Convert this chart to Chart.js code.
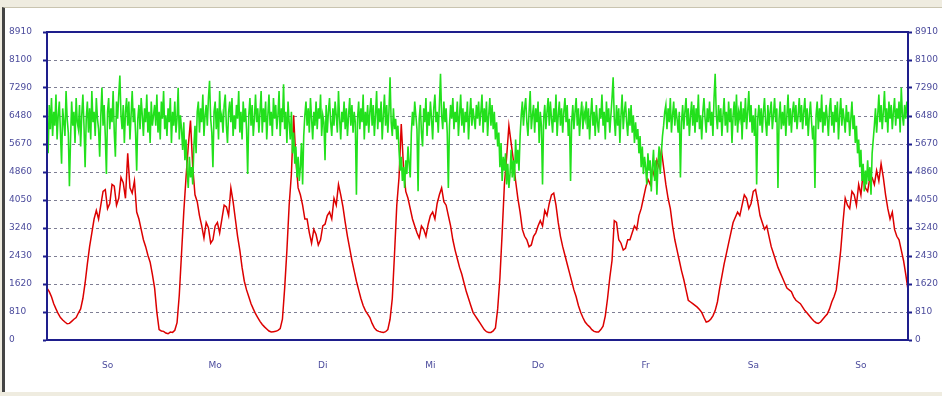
<!DOCTYPE html>
<html lang="de">
  <head>
    <meta charset="UTF-8" />
    <title>Wochenverlauf</title>
    <script src="https://cdn.jsdelivr.net/npm/chart.js"></script>
    <style>
      body {
        margin: 0;
        padding: 0;
        background-color: #efece0;
        width: 942px;
        height: 396px;
        overflow: hidden;
        position: relative;
      }
      .panel {
        position: absolute;
        left: 2px;
        top: 7px;
        width: 940px;
        height: 385px;
        background-color: #fff;
        border-left: 3px solid #444;
        border-top: 1px solid #c9c4b0;
        box-sizing: border-box;
      }
      #chartBox {
        position: absolute;
        left: 0;
        top: 0;
        width: 942px;
        height: 396px;
      }
    </style>
  </head>
  <body>
    <div class="panel"></div>
    <div id="chartBox">
      <canvas id="weekChart" width="942" height="396"></canvas>
    </div>

    <script>
      // day labels along the bottom (one per 24 hours)
      const dayNames = ["So", "Mo", "Di", "Mi", "Do", "Fr", "Sa", "So"];

      // y axis ticks
      const yMax = 8910;
      const yStep = 810;

      // red series, one value per half hour (385 values)
      const redValues = [
        // So
        1500, 1400, 1250, 1050, 900, 760, 650, 580, 520, 470, 480, 540,
        600, 650, 780, 900, 1200, 1650, 2200, 2700, 3100, 3500, 3750, 3500,
        3900, 4300, 4350, 3800, 3950, 4500, 4450, 3900, 4100, 4700, 4550, 4100,
        5400, 4400, 4250, 4600, 3700, 3500, 3200, 2900, 2700, 2450, 2250, 1900,
        // Mo
        1500, 800, 300, 260, 250, 200, 180, 230, 220, 280, 500, 1300,
        2500, 3700, 4700, 5600, 6350, 5000, 4200, 4000, 3600, 3300, 2950, 3400,
        3250, 2800, 2900, 3300, 3400, 3100, 3500, 3900, 3850, 3600, 4400, 4000,
        3500, 3000, 2600, 2100, 1700, 1450, 1250, 1050, 900, 760, 650, 540,
        // Di
        450, 380, 320, 260, 230, 240, 250, 280, 330, 600, 1500, 2600,
        3900, 4800, 6500, 5200, 4400, 4200, 3900, 3500, 3500, 3100, 2800, 3200,
        3050, 2750, 2900, 3300, 3350, 3600, 3700, 3500, 4100, 3900, 4500, 4200,
        3850, 3400, 3000, 2650, 2300, 2000, 1700, 1450, 1200, 1000, 850, 750,
        // Mi
        650, 480, 350, 280, 250, 230, 220, 240, 300, 600, 1200, 2500,
        3900, 4700, 6250, 5000, 4300, 4100, 3800, 3500, 3300, 3100, 2950, 3300,
        3200, 3000, 3350, 3600, 3700, 3500, 3950, 4200, 4400, 4000, 3900, 3600,
        3300, 2900, 2600, 2350, 2100, 1900, 1650, 1400, 1200, 1000, 800, 700,
        // Do
        600, 500, 400, 300, 240, 220, 220, 260, 350, 900, 1800, 3100,
        4500, 5300, 6200, 5700, 5200, 4600, 4100, 3700, 3200, 3000, 2900, 2700,
        2750, 3000, 3100, 3300, 3450, 3300, 3750, 3600, 3950, 4200, 4250, 3900,
        3400, 3000, 2700, 2450, 2200, 1950, 1700, 1450, 1250, 1000, 800, 650,
        // Fr
        520, 440, 380, 300, 250, 230, 230, 300, 400, 700, 1200, 1800,
        2300, 3450, 3400, 2900, 2800, 2600, 2650, 2900, 2900, 3100, 3300, 3200,
        3600, 3800, 4100, 4400, 4650, 4500, 4950, 4700, 5200, 5000, 5500, 5000,
        4500, 4100, 3800, 3300, 2900, 2600, 2300, 2000, 1750, 1450, 1150, 1100,
        // Sa
        1050, 1000, 950, 880, 800, 650, 520, 540, 600, 700, 850, 1100,
        1500, 1850, 2200, 2500, 2800, 3100, 3400, 3550, 3700, 3600, 3900, 4200,
        4100, 3800, 3950, 4300, 4350, 4000, 3600, 3400, 3200, 3300, 3000, 2700,
        2500, 2300, 2100, 1950, 1800, 1650, 1500, 1450, 1400, 1250, 1150, 1100,
        // So
        1050, 950, 850, 780, 700, 620, 550, 500, 480, 520, 600, 680,
        750, 900, 1100, 1250, 1450, 2000, 2600, 3400, 4100, 3900, 3800, 4300,
        4200, 3900, 4500, 4200, 4850, 4400, 4300, 4700, 4700, 4500, 4900, 4600,
        5100, 4700, 4200, 3800, 3500, 3700, 3200, 3000, 2900, 2600, 2300, 1900,
        1450
      ];

      // green series, one value per quarter hour (769 values)
      const greenValues = [
        // So
        6300, 5400, 6800, 6100, 7000, 5900, 6600, 6200, 7100, 5800, 6500, 6900,
        6000, 5100, 6700, 6300, 5900, 7200, 6400, 6000, 4450, 5800, 6900, 6200,
        6600, 5700, 7000, 6300, 6100, 6800, 5600, 6500, 7100, 6200, 5000, 6400,
        6900, 6000, 6700, 5800, 7200, 6300, 6600, 5900, 7000, 6400, 6100, 5300,
        6500, 7300, 6200, 6800, 5900, 4800, 6600, 7000, 6100, 6700, 6300, 7200,
        6000, 5300, 6900, 6400, 7100, 7650, 6500, 6100, 6800, 5700, 6600, 7000,
        6200, 6900, 5800, 6500, 7200, 6300, 6700, 6000, 4900, 6400, 6800, 6100,
        7000, 6500, 5900, 6700, 6300, 7100, 6000, 6600, 5700, 6900, 6200, 6500,
        // Mo
        6800, 6200, 7100, 6000, 6600, 5800, 6900, 6400, 7200, 6100, 6500, 5900,
        6700, 6300, 7000, 5700, 6600, 6200, 6900, 6000, 6400, 7300, 5800, 6500,
        6100, 5500, 6300, 5200, 5800, 4900, 4400, 5300, 4700, 5000, 4500, 5600,
        6200, 5400, 6600, 6900, 6000, 6700, 6300, 7100, 5900, 6500, 6800, 6200,
        7000, 7500, 6400, 6000, 5000, 6600, 6900, 6100, 6700, 5800, 7200, 6300,
        6500, 6000, 6800, 7100, 6200, 5700, 6600, 6900, 6300, 7000, 5900, 6500,
        6100, 6800, 6400, 7200, 6000, 6600, 5800, 6900, 6300, 6700, 6100, 4800,
        6500, 7000, 6200, 6800, 5900, 6400, 7100, 6300, 6700, 6000, 6600, 7200,
        // Di
        6000, 6700, 6300, 6900, 5800, 6500, 7100, 6200, 6600, 5900, 7000, 6400,
        6800, 6100, 6500, 7200, 5900, 6700, 6300, 7400, 6100, 6600, 5700, 6900,
        6300, 5800, 6600, 5400, 6000, 5100, 5600, 4700, 5300, 4600, 5000, 5700,
        4500, 5900, 6500, 6900, 6200, 6700, 6000, 7000, 6400, 5800, 6600, 6200,
        6900, 6100, 6700, 6400, 7100, 5900, 6500, 6300, 5200, 6800, 6000, 6600,
        7000, 6300, 5900, 6700, 6200, 6900, 6500, 6000, 7200, 6400, 5800, 6600,
        6300, 6900, 6100, 6700, 5900, 6500, 7000, 6200, 6800, 6000, 6600, 6300,
        4200, 6400, 6900, 6100, 6700, 6300, 7100, 5800, 6600, 6200, 6800, 6000,
        // Mi
        6600, 7000, 6200, 6800, 5900, 6500, 7200, 6100, 6700, 6300, 6900, 5800,
        6500, 7100, 6200, 6800, 6000, 6600, 7600, 6300, 5900, 6700, 6100, 6400,
        5800, 6200, 5500, 4900, 5300, 4600, 5000, 4400, 5200, 4800, 5600, 5100,
        4700, 6000, 6600, 6200, 6900, 6500, 6100, 4300, 6400, 6800, 6000, 5600,
        6700, 6300, 7000, 5900, 6600, 6200, 6900, 6400, 5800, 6700, 7100, 6300,
        6600, 6000, 6800, 7700, 6500, 6100, 6900, 6300, 6700, 6000, 4400, 6200,
        6800, 6400, 7000, 6100, 6600, 6300, 6900, 5900, 6500, 7100, 6200, 6700,
        6000, 6600, 6300, 6900, 5800, 6500, 7000, 6200, 6700, 6400, 6100, 6800,
        // Do
        6400, 6900, 6200, 6600, 7100, 6000, 6700, 6300, 6900, 5900, 6500, 7000,
        6200, 6800, 6100, 6600, 5800, 6300, 5600, 6000, 5000, 5700, 4600, 5300,
        4900, 5400, 4500, 5100, 4400, 4800, 5500, 4700, 5200, 4600, 5800, 5100,
        5500, 4900, 5900, 6500, 6900, 6200, 6700, 7000, 6300, 5900, 6600, 7200,
        6100, 6500, 6800, 6000, 6700, 6300, 6900, 5700, 6600, 6200, 4500, 6400,
        6800, 6100, 6600, 7000, 6200, 6900, 6400, 6000, 6700, 6300, 7100, 5900,
        6500, 6900, 6200, 6700, 6000, 6600, 7000, 6300, 6800, 5900, 6400, 4600,
        6300, 6800, 6100, 6600, 7000, 6200, 6700, 5900, 6500, 6900, 6100, 6600,
        // Fr
        6400, 6900, 6100, 6700, 5800, 6500, 7000, 6200, 6600, 5900, 6800, 6300,
        6000, 6700, 6400, 7100, 6200, 6600, 5800, 6900, 6300, 6700, 6000, 6500,
        7000, 7600, 6400, 5900, 6800, 6200, 6700, 5700, 6500, 7100, 6100, 6600,
        6900, 6300, 5900, 6700, 6200, 6800, 6000, 6500, 5700, 6300, 5800, 6100,
        5400, 5900, 5000, 5600, 4800, 5300, 5000, 4500, 5400, 4900, 5200, 4300,
        5000, 5500, 4600, 5200, 4200, 5100, 5600, 4800, 5400, 5900, 6200, 6600,
        6800, 6100, 6700, 6300, 7000, 6000, 6500, 6900, 6200, 6700, 6400, 6000,
        6600, 4700, 6300, 6800, 6100, 6600, 7000, 6200, 6700, 5900, 6500, 6900,
        // Sa
        6200, 6800, 6000, 6700, 6300, 7100, 6100, 6500, 5800, 6600, 7000, 6400,
        6000, 6700, 6300, 6900, 6200, 6600, 5900, 7000, 7700, 6500, 6100, 6800,
        6300, 6700, 5900, 6500, 7000, 6200, 6600, 6000, 6900, 6300, 6700, 5700,
        6500, 6900, 6200, 7100, 6000, 6600, 6400, 6900, 5800, 6700, 6300, 7000,
        6100, 6600, 7200, 6300, 6800, 6000, 6500, 5900, 6700, 4500, 6400, 6800,
        6200, 6700, 6000, 6600, 7000, 6300, 5900, 6800, 6200, 6600, 6900, 6100,
        6500, 7000, 6300, 6700, 4400, 6400, 6900, 6100, 6600, 6200, 6800, 5900,
        6500, 7100, 6200, 6700, 6000, 6600, 6900, 6300, 6800, 6100, 6500, 7000,
        // So
        6300, 6800, 6100, 6600, 7000, 6200, 6700, 5900, 6500, 6900, 6300, 5800,
        6200, 4400, 6500, 6900, 6100, 6700, 6300, 7100, 6000, 6600, 6200, 6800,
        6400, 5900, 6700, 7000, 6200, 6600, 6000, 6800, 6300, 6900, 5800, 6500,
        7000, 6200, 6700, 6400, 6000, 6800, 6300, 6600, 5900, 6400, 6900, 6100,
        6500, 5700, 6200, 5400, 5800, 5000, 5500, 4600, 5100, 4300, 4900, 4500,
        5200, 4600, 5000, 4200, 5400, 5800, 6200, 6700, 6000, 6500, 7100, 6300,
        6800, 6100, 6600, 7200, 6300, 6700, 6000, 6900, 6400, 6800, 6100, 6600,
        7000, 6200, 6700, 6400, 6900, 6000, 7300, 6500, 6200, 6800, 6400, 6900,
        6500
      ];

      const axisBlue = "#1e1e8c";
      const labelBlue = "#4b4b9c";
      const tickFont = { family: "DejaVu Sans", size: 9 };

      // frame around the plot area
      const frame = {
        id: "frame",
        afterDraw(chart) {
          const a = chart.chartArea;
          const c = chart.ctx;
          c.save();
          c.strokeStyle = axisBlue;
          c.lineWidth = 2;
          c.strokeRect(a.left, a.top, a.right - a.left, a.bottom - a.top);
          c.restore();
        },
      };

      const yTicks = {
        stepSize: yStep,
        color: labelBlue,
        font: tickFont,
        padding: 3,
        callback: (v) => String(v),
      };

      new Chart(document.getElementById("weekChart"), {
        type: "line",
        data: {
          datasets: [
            {
              label: "gruen",
              data: greenValues.map((v, i) => ({ x: i / 4, y: v })),
              borderColor: "#22e01c",
              borderWidth: 1.6,
              pointRadius: 0,
              order: 0,
            },
            {
              label: "rot",
              data: redValues.map((v, i) => ({ x: i / 2, y: v })),
              borderColor: "#dc0000",
              borderWidth: 1.5,
              pointRadius: 0,
              order: 1,
            },
          ],
        },
        options: {
          responsive: false,
          animation: false,
          layout: { padding: { top: 32, left: 9, right: 0, bottom: 0 } },
          plugins: { legend: { display: false }, tooltip: { enabled: false } },
          scales: {
            x: {
              type: "linear",
              min: 0,
              max: 192,
              grid: { display: false },
              border: { color: axisBlue, width: 2 },
              afterBuildTicks(scale) {
                scale.ticks = dayNames.map((d, i) => ({ value: i * 24 + 13.5 }));
              },
              ticks: {
                autoSkip: false,
                maxRotation: 0,
                color: labelBlue,
                font: tickFont,
                padding: 12,
                callback: (v, i) => dayNames[i],
              },
              afterFit(scale) {
                scale.height = 56;
              },
            },
            y: {
              position: "left",
              min: 0,
              max: yMax,
              grid: {
                color: "#7e7e94",
                lineWidth: 1,
                tickColor: axisBlue,
                tickLength: 4,
                tickWidth: 2,
              },
              border: { color: axisBlue, width: 2, dash: [3, 3] },
              ticks: Object.assign({ crossAlign: "far" }, yTicks),
              afterFit(scale) {
                scale.width = 38;
              },
            },
            y2: {
              position: "right",
              min: 0,
              max: yMax,
              grid: {
                drawOnChartArea: false,
                tickColor: axisBlue,
                tickLength: 4,
                tickWidth: 2,
              },
              border: { color: axisBlue, width: 2 },
              ticks: Object.assign({ crossAlign: "near" }, yTicks),
              afterFit(scale) {
                scale.width = 34;
              },
            },
          },
        },
        plugins: [frame],
      });
    </script>
  </body>
</html>
